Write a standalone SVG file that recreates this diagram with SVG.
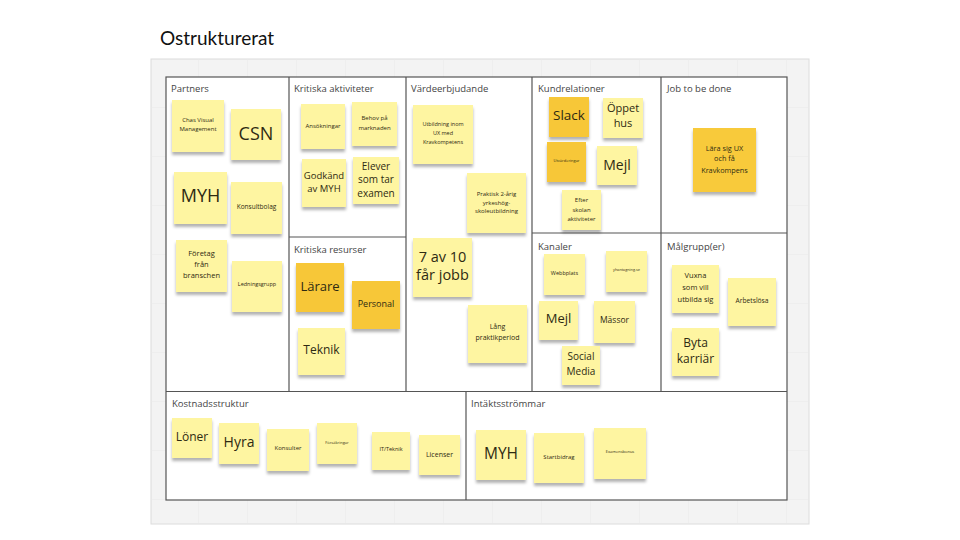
<svg xmlns="http://www.w3.org/2000/svg" width="960" height="540" viewBox="0 0 960 540">
<defs>
<pattern id="grid" x="150" y="59" width="49" height="49" patternUnits="userSpaceOnUse">
<path d="M49 0V49H0" fill="none" stroke="#e8e8e8" stroke-width="1"/>
</pattern>
<filter id="sh" x="-20%" y="-20%" width="140%" height="150%">
<feDropShadow dx="0" dy="3" stdDeviation="1.8" flood-color="#000" flood-opacity="0.3"/>
</filter>
<style>
.title{font-family:Lato,"Liberation Sans",sans-serif;font-size:19px;fill:#111}
.lbl{font-family:"Open Sans","Liberation Sans",sans-serif;font-size:9.5px;fill:#444}
.s{fill:#FEF5A1;filter:url(#sh)}
.o{fill:#F7C737;filter:url(#sh)}
.t{font-family:"Open Sans","Liberation Sans",sans-serif;fill:#2e2a12;text-anchor:middle}
.line{fill:none;stroke:#555;stroke-width:1.2}
</style>
</defs>
<rect width="960" height="540" fill="#fff"/>
<text class="title" x="160" y="45">Ostrukturerat</text>
<rect x="151" y="59" width="658" height="465" fill="#f3f3f3" stroke="#dcdcdc"/>
<rect x="151" y="59" width="658" height="465" fill="url(#grid)"/>
<rect x="166" y="77" width="621" height="423" fill="#fff"/>
<g id="board-lines">
<rect class="line" x="166" y="77" width="621" height="423"/>
<path class="line" d="M166 391.5H787M289 77V391.5M406 77V391.5M532 77V391.5M661 77V391.5M289 237H406M532 233H661M661 233H787M466 391.5V500"/>
</g>
<g id="labels">
<text class="lbl" x="171" y="92">Partners</text>
<text class="lbl" x="294" y="92">Kritiska aktiviteter</text>
<text class="lbl" x="294" y="253">Kritiska resurser</text>
<text class="lbl" x="411" y="92">Värdeerbjudande</text>
<text class="lbl" x="538" y="92">Kundrelationer</text>
<text class="lbl" x="538" y="250">Kanaler</text>
<text class="lbl" x="667" y="92">Job to be done</text>
<text class="lbl" x="667" y="250">Målgrupp(er)</text>
<text class="lbl" x="172" y="407">Kostnadsstruktur</text>
<text class="lbl" x="471" y="407">Intäktsströmmar</text>
</g>
<g id="n-chas"><rect class="s" x="172" y="100" width="52" height="52"/><text class="t" font-size="6"><tspan x="198" y="122">Chas Visual</tspan><tspan x="198" y="131">Management</tspan></text></g>
<g id="n-csn"><rect class="s" x="231" y="109" width="50" height="51"/><text class="t" x="256" y="139.5" font-size="18">CSN</text></g>
<g id="n-myh1"><rect class="s" x="174" y="172" width="53" height="52"/><text class="t" x="200.5" y="201.5" font-size="18">MYH</text></g>
<g id="n-konsultbolag"><rect class="s" x="231" y="182" width="51" height="52"/><text class="t" x="256.5" y="209" font-size="6.5">Konsultbolag</text></g>
<g id="n-foretag"><rect class="s" x="176" y="240" width="51" height="52"/><text class="t" font-size="7.5"><tspan x="201.5" y="256">Företag</tspan><tspan x="201.5" y="267">från</tspan><tspan x="201.5" y="278">branschen</tspan></text></g>
<g id="n-ledning"><rect class="s" x="232" y="261" width="50" height="51"/><text class="t" x="257" y="286" font-size="5.5">Ledningsgrupp</text></g>
<g id="n-ansok"><rect class="s" x="301" y="104" width="44" height="45"/><text class="t" x="323" y="128" font-size="6">Ansökningar</text></g>
<g id="n-behov"><rect class="s" x="352" y="102" width="45" height="44"/><text class="t" font-size="6"><tspan x="374.5" y="120">Behov på</tspan><tspan x="374.5" y="130">marknaden</tspan></text></g>
<g id="n-godkand"><rect class="s" x="302" y="159" width="44" height="48"/><text class="t" font-size="9.5"><tspan x="324" y="178.5">Godkänd</tspan><tspan x="324" y="191.8">av MYH</tspan></text></g>
<g id="n-elever"><rect class="s" x="353" y="157" width="46" height="47"/><text class="t" font-size="10"><tspan x="376" y="169.5">Elever</tspan><tspan x="376" y="183">som tar</tspan><tspan x="376" y="196.5">examen</tspan></text></g>
<g id="n-larare"><rect class="o" x="296" y="263" width="48" height="49"/><text class="t" x="320" y="290.5" font-size="13">Lärare</text></g>
<g id="n-personal"><rect class="o" x="352" y="281" width="48" height="48"/><text class="t" x="376" y="306.5" font-size="9">Personal</text></g>
<g id="n-teknik"><rect class="s" x="298" y="328" width="47" height="47"/><text class="t" x="321.5" y="353.5" font-size="12">Teknik</text></g>
<g id="n-utbildning"><rect class="s" x="413" y="105" width="60" height="59"/><text class="t" font-size="5.5"><tspan x="443" y="126.3">Utbildning inom</tspan><tspan x="443" y="134.7">UX med</tspan><tspan x="443" y="143.7">Kravkompetens</tspan></text></g>
<g id="n-praktisk"><rect class="s" x="467" y="173" width="59" height="60"/><text class="t" font-size="6"><tspan x="496.5" y="195.5">Praktisk 2-årig</tspan><tspan x="496.5" y="204.5">yrkeshög-</tspan><tspan x="496.5" y="213.3">skoleutbildning</tspan></text></g>
<g id="n-7av10"><rect class="s" x="413" y="238" width="59" height="59"/><text class="t" font-size="14.5"><tspan x="442.5" y="261.8">7 av 10</tspan><tspan x="442.5" y="280.3">får jobb</tspan></text></g>
<g id="n-lang"><rect class="s" x="468" y="305" width="59" height="58"/><text class="t" font-size="7"><tspan x="497.5" y="329">Lång</tspan><tspan x="497.5" y="339.7">praktikperiod</tspan></text></g>
<g id="n-slack"><rect class="o" x="549" y="97" width="40" height="40"/><text class="t" x="569" y="120" font-size="13.5">Slack</text></g>
<g id="n-oppet"><rect class="s" x="603" y="98" width="40" height="40"/><text class="t" font-size="11"><tspan x="623" y="112.3">Öppet</tspan><tspan x="623" y="126.7">hus</tspan></text></g>
<g id="n-utvard"><rect class="o" x="547" y="142" width="39" height="40"/><text class="t" x="566.5" y="162" font-size="4">Utvärderingar</text></g>
<g id="n-mejl1"><rect class="s" x="597" y="146" width="40" height="39"/><text class="t" x="617" y="169.5" font-size="14">Mejl</text></g>
<g id="n-efter"><rect class="s" x="562" y="190" width="39" height="40"/><text class="t" font-size="6"><tspan x="581.5" y="201.5">Efter</tspan><tspan x="581.5" y="211.5">skolan</tspan><tspan x="581.5" y="221.3">aktiviteter</tspan></text></g>
<g id="n-webb"><rect class="s" x="544" y="254" width="41" height="41"/><text class="t" x="564.5" y="274.7" font-size="5.5">Webbplats</text></g>
<g id="n-yh"><rect class="s" x="606" y="251" width="41" height="41"/><text class="t" x="626.5" y="270.7" font-size="3.8">yhantagning.se</text></g>
<g id="n-mejl2"><rect class="s" x="539" y="301" width="39" height="39"/><text class="t" x="558.5" y="323" font-size="13">Mejl</text></g>
<g id="n-massor"><rect class="s" x="594" y="301" width="41" height="42"/><text class="t" x="614.5" y="323" font-size="8.5">Mässor</text></g>
<g id="n-social"><rect class="s" x="562" y="346" width="38" height="39"/><text class="t" font-size="10"><tspan x="581" y="360.2">Social</tspan><tspan x="581" y="374.5">Media</tspan></text></g>
<g id="n-lara"><rect class="o" x="693" y="128" width="63" height="64" style="fill:#F8CA3A"/><text class="t" font-size="7.3"><tspan x="724.5" y="151">Lära sig UX</tspan><tspan x="724.5" y="161">och få</tspan><tspan x="724.5" y="172.5">Kravkompens</tspan></text></g>
<g id="n-vuxna"><rect class="s" x="672" y="265" width="47" height="48"/><text class="t" font-size="7.5"><tspan x="695.5" y="278.3">Vuxna</tspan><tspan x="695.5" y="290">som vill</tspan><tspan x="695.5" y="301.7">utbilda sig</tspan></text></g>
<g id="n-arbets"><rect class="s" x="728" y="278" width="48" height="48"/><text class="t" x="752" y="303" font-size="6.7">Arbetslösa</text></g>
<g id="n-byta"><rect class="s" x="672" y="328" width="47" height="48"/><text class="t" font-size="12"><tspan x="695.5" y="346.5">Byta</tspan><tspan x="695.5" y="362.5">karriär</tspan></text></g>
<g id="n-loner"><rect class="s" x="172" y="418" width="40" height="40"/><text class="t" x="192" y="440.8" font-size="12">Löner</text></g>
<g id="n-hyra"><rect class="s" x="219" y="423" width="40" height="41"/><text class="t" x="239" y="447" font-size="14">Hyra</text></g>
<g id="n-konsulter"><rect class="s" x="267" y="429" width="42" height="42"/><text class="t" x="288" y="450.3" font-size="6">Konsulter</text></g>
<g id="n-forsak"><rect class="s" x="317" y="423" width="40" height="41"/><text class="t" x="337" y="443.7" font-size="4">Försäkringar</text></g>
<g id="n-it"><rect class="s" x="372" y="432" width="38" height="38"/><text class="t" x="391" y="451" font-size="5.5">IT/Teknik</text></g>
<g id="n-licenser"><rect class="s" x="419" y="435" width="41" height="40"/><text class="t" x="439.5" y="456.8" font-size="7">Licenser</text></g>
<g id="n-myh2"><rect class="s" x="476" y="430" width="50" height="50"/><text class="t" x="501" y="458.8" font-size="15.5">MYH</text></g>
<g id="n-start"><rect class="s" x="534" y="433" width="50" height="50"/><text class="t" x="559" y="458.8" font-size="6">Startbidrag</text></g>
<g id="n-exam"><rect class="s" x="594" y="428" width="52" height="51"/><text class="t" x="620" y="453" font-size="4">Examensbonus</text></g>
</svg>
